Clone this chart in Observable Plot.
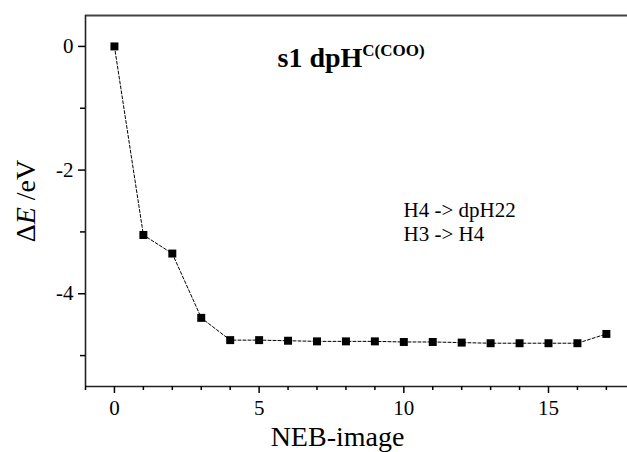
<!DOCTYPE html>
<html><head><meta charset="utf-8">
<script src="https://cdn.jsdelivr.net/npm/d3@7"></script>
<script src="https://cdn.jsdelivr.net/npm/@observablehq/plot@0.6"></script>
<style>
body{margin:0;background:#fff}
svg{display:block}
#chart svg, #chart svg text { font-family: "Liberation Serif", "Times New Roman", Times, serif !important; }
</style>
</head><body><div id="chart"></div>
<script>
// NEB image index and relative energies (eV)
const images = [0, 1, 2, 3, 4, 5, 6, 7, 8, 9, 10, 11, 12, 13, 14, 15, 16, 17];
const energies = [0, -3.05, -3.35, -4.39, -4.75, -4.75, -4.76, -4.77, -4.77, -4.77, -4.78, -4.78, -4.79, -4.80, -4.80, -4.80, -4.80, -4.65];

const xMajorTicks = [0, 5, 10, 15];
const xMinorTicks = [-1, 1, 2, 3, 4, 6, 7, 8, 9, 11, 12, 13, 14, 16, 17];
const yMajorTicks = [-4, -2, 0];
const yMinorTicks = [-5, -3, -1];
const xDomain = [-1, 17.73];
const yDomain = [-5.5, 0.5];

const titleMain = "s1 dpH";
const titleSup = "C(COO)";
const noteLines = ["H4 -> dpH22", "H3 -> H4"];
const xLabel = "NEB-image";
const yLabelParts = ["\u0394", "E", " /eV"];

const data = images.map((x, i) => ({image: x, dE: energies[i]}));
const font = "Liberation Serif";
const fmt = d => String(d);

const plot = Plot.plot({
  width: 627, height: 452,
  marginLeft: 85, marginRight: 0, marginTop: 15, marginBottom: 66,
  style: {fontSize: "21px", color: "#000", background: "#fff", overflow: "visible"},
  x: {domain: xDomain, label: null},
  y: {domain: yDomain, label: null},
  marks: [
    Plot.ruleY([yDomain[1]], {stroke: "#444", strokeWidth: 2}),
    Plot.ruleX([xDomain[0]], {stroke: "#222", strokeWidth: 1.6}),
    Plot.ruleY([yDomain[0]], {stroke: "#222", strokeWidth: 1.6}),
    Plot.axisX(xMajorTicks, {tickSize: 7, tickPadding: 7, fontSize: 21, strokeWidth: 1.5, tickFormat: fmt, label: null}),
    Plot.axisX(xMinorTicks, {tickSize: 4, strokeWidth: 1.5, tickFormat: () => "", label: null}),
    Plot.axisY(yMajorTicks, {tickSize: 7, tickPadding: 5, fontSize: 21, strokeWidth: 1.5, tickFormat: fmt, label: null}),
    Plot.axisY(yMinorTicks, {tickSize: 5, strokeWidth: 1.5, tickFormat: () => "", label: null}),
    Plot.line(data, {x: "image", y: "dE", stroke: "#000", strokeWidth: 1, strokeDasharray: "3,2"}),
    Plot.dot(data, {x: "image", y: "dE", symbol: "square", r: 4.5, fill: "#000", stroke: "none"}),
    Plot.text([titleMain], {text: d => d, frameAnchor: "top-left", textAnchor: "start", lineAnchor: "bottom", dx: 192, dy: 51, fontSize: 28, fontWeight: "bold", fontFamily: font}),
    Plot.text([noteLines.join("\n")], {text: d => d, frameAnchor: "top-left", textAnchor: "start", lineAnchor: "bottom", lineHeight: 1.143, dx: 318, dy: 225, fontSize: 21, fontFamily: font}),
    Plot.text([xLabel], {text: d => d, frameAnchor: "bottom", textAnchor: "middle", lineAnchor: "bottom", dx: -19, dy: 59, fontSize: 28, fontFamily: font}),
    Plot.text([yLabelParts.join("")], {text: d => d, frameAnchor: "left", textAnchor: "middle", lineAnchor: "bottom", rotate: -90, dx: -51, fontSize: 28, fontFamily: font})
  ]
});

const svg = d3.select(plot.tagName.toLowerCase() === "svg" ? plot : plot.querySelector("svg"));
svg.selectAll("text").filter(function() { return this.textContent === titleMain; })
  .append("tspan").attr("font-size", 17).attr("dy", -11).text(titleSup);
svg.selectAll("text").filter(function() { return this.textContent === yLabelParts.join(""); })
  .each(function() {
    const t = d3.select(this);
    t.text(null);
    t.append("tspan").text(yLabelParts[0]);
    t.append("tspan").attr("font-style", "italic").text(yLabelParts[1]);
    t.append("tspan").text(yLabelParts[2]);
  });

document.getElementById("chart").append(plot);
</script>
</body></html>
